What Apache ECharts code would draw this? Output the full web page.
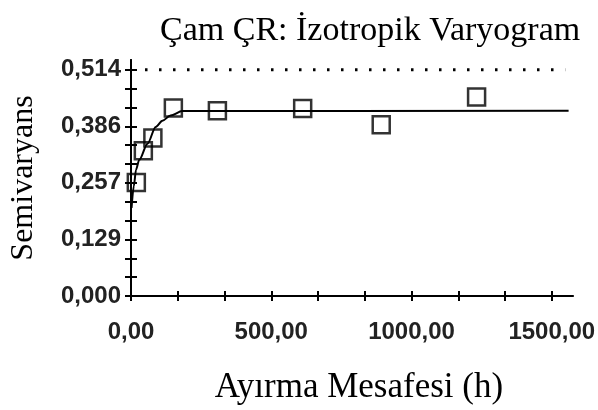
<!DOCTYPE html>
<html>
<head>
<meta charset="utf-8">
<script src="https://cdn.jsdelivr.net/npm/echarts@6/dist/echarts.min.js"></script>
<style>
  html, body { margin: 0; padding: 0; background: #fff; }
  #chart { width: 598px; height: 410px; }
</style>
</head>
<body>
<div id="chart"></div>
<script>
// experimental semivariogram points
const lagX = [19, 44, 78, 151, 308, 612, 892, 1232];
const semiVar = [0.258, 0.330, 0.359, 0.427, 0.421, 0.426, 0.389, 0.452];

// fitted model curve
const modelX = [2, 10, 18, 29, 59, 88, 112, 141, 183, 1560];
const modelY = [0.2, 0.25, 0.287, 0.309, 0.346, 0.384, 0.398, 0.41, 0.42, 0.421];

// sill reference (dotted)
const sillX = [50, 1548];
const sillY = [0.514, 0.514];

const yTickLabels = ["0,000", "0,129", "0,257", "0,386", "0,514"];
const xTickLabels = [0, 500, 1000, 1500];
const yLabelTop = 0.514;
const yAxisTop = 0.536;
const xAxisMax = 1575;

const yTicks = [];
for (let i = 0; i <= 12; i++) yTicks.push(yLabelTop * i / 12);
const yLabelVals = [];
for (let i = 0; i <= 4; i++) yLabelVals.push(yLabelTop * i / 4);
const xTicks = [];
for (let i = 0; i <= 9; i++) xTicks.push(500 * i / 3);

const serif = "'Liberation Serif', 'DejaVu Serif', serif";
const sans = "'Liberation Sans', Arial, sans-serif";

const chart = echarts.init(document.getElementById("chart"));

const baseX = {
  type: "value",
  position: "bottom",
  min: 0,
  max: xAxisMax,
  axisLine: { show: true, onZero: false, lineStyle: { color: "#000", width: 2 } },
  splitLine: { show: false },
};
const baseY = {
  type: "value",
  position: "left",
  min: 0,
  max: yAxisTop,
  axisLine: { show: true, onZero: false, lineStyle: { color: "#000", width: 2 } },
  splitLine: { show: false },
};

chart.setOption({
  animation: false,
  title: {
    text: "Çam ÇR: İzotropik Varyogram",
    left: 155,
    top: 9,
    textStyle: { fontFamily: serif, fontSize: 34, fontWeight: "normal", color: "#000" },
  },
  grid: { left: 128, right: 25, top: 60, bottom: 110 },
  xAxis: [
    Object.assign({}, baseX, {
      name: "Ayırma Mesafesi (h)",
      nameLocation: "middle",
      nameGap: 74,
      nameTextStyle: { fontFamily: serif, fontSize: 35, color: "#000", padding: [0, 0, 0, 14] },
      axisTick: { show: true, inside: false, length: 5, customValues: xTicks, lineStyle: { color: "#000", width: 2 } },
      axisLabel: {
        customValues: xTickLabels,
        margin: 24,
        fontFamily: sans,
        fontSize: 24,
        fontWeight: "bold",
        color: "#222",
        formatter: (v) => v.toFixed(2).replace(".", ","),
      },
    }),
    Object.assign({}, baseX, {
      axisTick: { show: true, inside: true, length: 5, customValues: xTicks, lineStyle: { color: "#000", width: 2 } },
      axisLabel: { show: false },
    }),
  ],
  yAxis: [
    Object.assign({}, baseY, {
      name: "Semivaryans",
      nameLocation: "middle",
      nameGap: 91,
      nameTextStyle: { fontFamily: serif, fontSize: 32, color: "#000" },
      axisTick: { show: true, inside: false, length: 6, customValues: yTicks, lineStyle: { color: "#000", width: 2 } },
      axisLabel: {
        customValues: yLabelVals,
        margin: 10,
        fontFamily: sans,
        fontSize: 24,
        fontWeight: "bold",
        color: "#222",
        formatter: (v) => yTickLabels[Math.round(v / (yLabelTop / 4))],
      },
    }),
    Object.assign({}, baseY, {
      axisTick: { show: true, inside: true, length: 6, customValues: yTicks, lineStyle: { color: "#000", width: 2 } },
      axisLabel: { show: false },
    }),
  ],
  series: [
    {
      type: "line",
      data: sillX.map((x, i) => [x, sillY[i]]),
      showSymbol: false,
      lineStyle: { color: "#000", width: 3, type: [2.5, 11.5], cap: "butt" },
      silent: true,
    },
    {
      type: "line",
      data: modelX.map((x, i) => [x, modelY[i]]),
      showSymbol: false,
      smooth: 0.3,
      smoothMonotone: "x",
      lineStyle: { color: "#000", width: 2 },
    },
    {
      type: "scatter",
      data: lagX.map((x, i) => [x, semiVar[i]]),
      symbol: "rect",
      symbolSize: 17,
      itemStyle: { color: "rgba(0,0,0,0)", borderColor: "#000", borderWidth: 2.5 },
    },
  ],
});
</script>
</body>
</html>
